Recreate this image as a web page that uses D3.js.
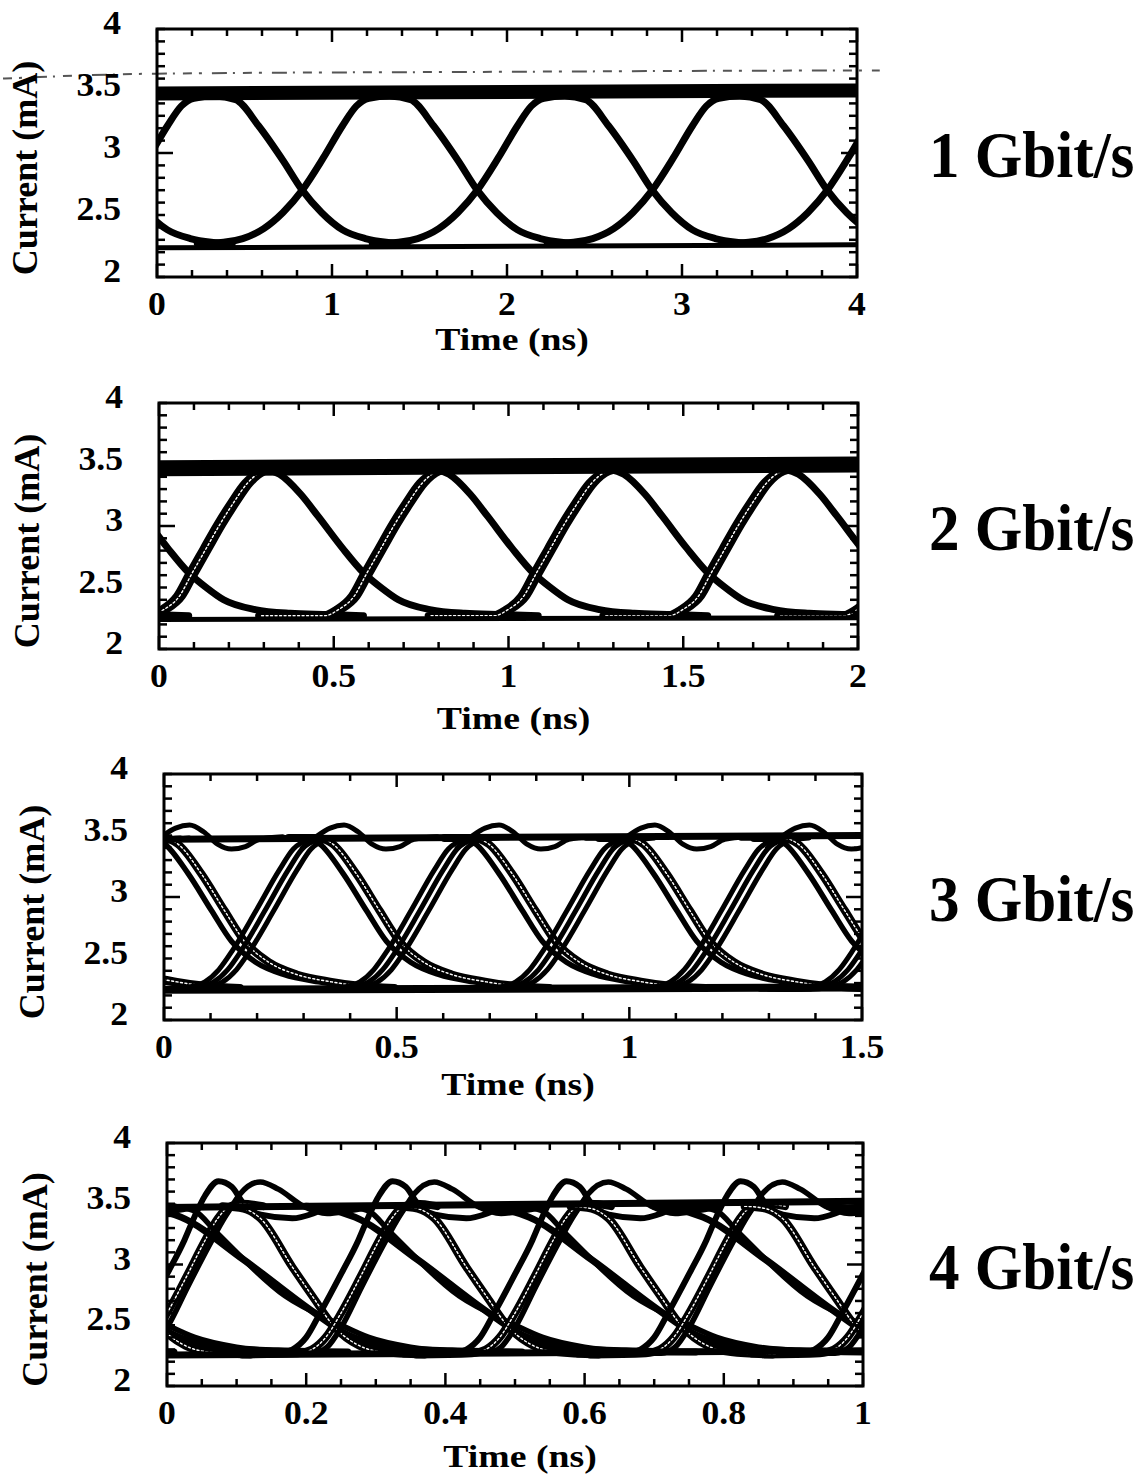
<!DOCTYPE html>
<html>
<head>
<meta charset="utf-8">
<script src="https://cdn.jsdelivr.net/npm/d3@7"></script>
<style>
  html, body { margin: 0; padding: 0; background: #fff; }
  text { font-family: "Liberation Serif", "Times New Roman", serif; font-weight: bold; fill: #000; }
</style>
</head>
<body>
<div id="chart"></div>
<script>
// ---- values ----
const rateLabels = ["1 Gbit/s", "2 Gbit/s", "3 Gbit/s", "4 Gbit/s"];
const xDomains = [[0, 4], [0, 2], [0, 1.5], [0, 1]];
const xTickValues = [[0, 1, 2, 3, 4], [0, 0.5, 1, 1.5, 2], [0, 0.5, 1, 1.5], [0, 0.2, 0.4, 0.6, 0.8, 1]];
const xMinorCounts = [20, 20, 15, 20];
const yDomain = [2, 4];
const yTickValues = [2, 2.5, 3, 3.5, 4];
const yMajorTicks = [3];
const xTitle = "Time (ns)";
const yTitle = "Current (mA)";

// eye crossing times (ns) for each bit rate
const crossings1 = [-0.17, 0.83, 1.83, 2.83, 3.83];
const crossings2 = [-0.415, 0.085, 0.585, 1.07, 1.57, 2.07];
const crossings3 = [-0.165, 0.167, 0.50, 0.835, 1.167, 1.50];
const crossings4 = [-0.29, -0.04, 0.21, 0.46, 0.71, 0.96, 1.21];

// "1" and "0" levels [t, mA]
const high1 = [[0, 3.48], [4, 3.505]];
const low1 = [[0, 2.235], [4, 2.26]];
const noise1 = [[-0.88, 3.60], [0, 3.64], [2, 3.655], [4, 3.665], [4.13, 3.665]];
const high2 = [[0, 3.47], [2, 3.50]];
const low2 = [[0, 2.24], [2, 2.255]];
const high3 = [[0, 3.47], [1.5, 3.50]];
const low3 = [[0, 2.245], [1.5, 2.265]];
const high4 = [[0, 3.47], [1, 3.52]];
const low4 = [[0, 2.255], [1, 2.29]];

// edge traces, [time from crossing (ns), mA]
const rise1 = [[-0.6, 2.27], [-0.45, 2.28], [-0.34, 2.31], [-0.22, 2.39], [-0.11, 2.52], [0, 2.70], [0.12, 2.96], [0.23, 3.22], [0.31, 3.38], [0.38, 3.44], [0.5, 3.46], [0.6, 3.46]];
const fall1 = [[-0.6, 3.46], [-0.5, 3.46], [-0.38, 3.43], [-0.25, 3.22], [-0.11, 2.94], [0, 2.70], [0.11, 2.52], [0.23, 2.38], [0.36, 2.31], [0.48, 2.28], [0.6, 2.27]];

const rise2 = [[-0.3, 2.27], [-0.12, 2.27], [-0.08, 2.32], [-0.035, 2.43], [0, 2.61], [0.04, 2.81], [0.08, 3.01], [0.12, 3.19], [0.16, 3.35], [0.2, 3.44], [0.25, 3.47], [0.32, 3.48]];
const fall2 = [[-0.35, 3.48], [-0.28, 3.46], [-0.24, 3.42], [-0.18, 3.26], [-0.13, 3.08], [-0.06, 2.82], [0, 2.62], [0.05, 2.50], [0.10, 2.40], [0.19, 2.32], [0.29, 2.29], [0.40, 2.28], [0.5, 2.27]];

const rise3 = [[-0.2, 2.25], [-0.13, 2.25], [-0.09, 2.27], [-0.06, 2.31], [-0.03, 2.41], [0, 2.57], [0.05, 2.89], [0.10, 3.22], [0.13, 3.39], [0.16, 3.46], [0.2, 3.48]];
const ring3 = [[0.13, 3.40], [0.16, 3.49], [0.19, 3.56], [0.22, 3.585], [0.25, 3.53], [0.28, 3.43], [0.31, 3.39], [0.34, 3.41], [0.37, 3.47], [0.42, 3.49]];
const fall3 = [[-0.26, 3.48], [-0.2, 3.48], [-0.165, 3.43], [-0.115, 3.19], [-0.065, 2.89], [-0.022, 2.64], [0.03, 2.47], [0.09, 2.37], [0.165, 2.31], [0.22, 2.28], [0.3, 2.26]];

const rise4a = [[-0.12, 2.26], [-0.05, 2.27], [-0.03, 2.30], [-0.01, 2.40], [0.01, 2.60], [0.04, 2.92], [0.065, 3.20], [0.08, 3.40], [0.095, 3.57], [0.114, 3.685], [0.133, 3.64], [0.15, 3.50], [0.175, 3.41], [0.22, 3.38], [0.25, 3.42], [0.27, 3.47], [0.3, 3.48]];
const rise4b = [[-0.12, 2.26], [-0.04, 2.27], [-0.02, 2.30], [0, 2.40], [0.02, 2.58], [0.05, 2.90], [0.075, 3.18], [0.095, 3.38], [0.11, 3.47], [0.13, 3.50], [0.16, 3.48]];
const rise4c = [[-0.08, 2.27], [0, 2.27], [0.02, 2.32], [0.04, 2.48], [0.07, 2.82], [0.10, 3.15], [0.12, 3.36], [0.13, 3.45], [0.145, 3.58], [0.174, 3.68], [0.2, 3.62], [0.236, 3.48], [0.27, 3.42], [0.3, 3.44], [0.33, 3.47]];
const fall4a = [[-0.26, 3.48], [-0.23, 3.46], [-0.19, 3.39], [-0.1, 3.04], [0, 2.61], [0.05, 2.42], [0.09, 2.34], [0.115, 2.31], [0.2, 2.29], [0.3, 2.28]];
const fall4b = [[-0.13, 3.48], [-0.1, 3.46], [-0.076, 3.38], [-0.03, 2.98], [0, 2.73], [0.03, 2.49], [0.067, 2.33], [0.1, 2.28], [0.16, 2.26]];
const fall4c = [[-0.2, 3.48], [-0.17, 3.44], [-0.14, 3.27], [-0.04, 2.74], [0.037, 2.51], [0.08, 2.40], [0.14, 2.32], [0.2, 2.29], [0.28, 2.28]];

// ---- layout ----
const W = 1145, H = 1477;
const panels = [
  { frame: { left: 157, right: 857, top: 29, bottom: 277 }, cross: crossings1,
    high: high1, low: low1, highW: 14, lowW: 5, xTitleY: 350, noise: noise1,
    traces: [{ pts: rise1, w: 7 }, { pts: fall1, w: 7 }] },
  { frame: { left: 159, right: 858, top: 403, bottom: 649 }, cross: crossings2,
    high: high2, low: low2, highW: 16, lowW: 5, xTitleY: 729,
    traces: [{ pts: fall2, w: 7 }, { pts: rise2, w: 7 }, { pts: rise2, w: 7, shift: 0.017 },
             { pts: rise2, w: 1.4, shift: 0.0085, white: true }] },
  { frame: { left: 164, right: 862, top: 774, bottom: 1020 }, cross: crossings3,
    high: high3, low: low3, highW: 7, lowW: 8, xTitleY: 1095,
    traces: [{ pts: fall3, w: 5.5 }, { pts: fall3, w: 8, shift: 0.028 }, { pts: fall3, w: 1.4, shift: 0.028, white: true },
             { pts: rise3, w: 5, shift: -0.019 }, { pts: rise3, w: 5 }, { pts: rise3, w: 5, shift: 0.019 },
             { pts: ring3, w: 5 }] },
  { frame: { left: 167, right: 863, top: 1143, bottom: 1386 }, cross: crossings4,
    high: high4, low: low4, highW: 7, lowW: 7, xTitleY: 1467,
    traces: [{ pts: fall4a, w: 7 }, { pts: fall4c, w: 5.5 }, { pts: fall4b, w: 8 }, { pts: fall4b, w: 1.4, white: true },
             { pts: rise4a, w: 6 }, { pts: rise4b, w: 8, shift: 0.018 }, { pts: rise4b, w: 1.4, shift: 0.018, white: true },
             { pts: rise4c, w: 5.5 }] },
];

const svg = d3.select('#chart').append('svg')
  .attr('width', W).attr('height', H)
  .style('background', '#fff');

function label(g, x, y, txt, size, sx, anchor) {
  g.append('text')
    .attr('transform', `translate(${x},${y}) scale(${sx},1)`)
    .attr('text-anchor', anchor)
    .style('font-size', size + 'px')
    .text(txt);
}

panels.forEach((p, i) => {
  const f = p.frame;
  const x = d3.scaleLinear().domain(xDomains[i]).range([f.left, f.right]);
  const y = d3.scaleLinear().domain(yDomain).range([f.bottom, f.top]);
  const g = svg.append('g');

  const clipId = 'clip' + i;
  svg.append('clipPath').attr('id', clipId)
    .append('rect').attr('x', f.left).attr('y', f.top)
    .attr('width', f.right - f.left).attr('height', f.bottom - f.top);

  const line = d3.line().x(d => x(d[0])).y(d => y(d[1])).curve(d3.curveMonotoneX);
  const plot = g.append('g').attr('clip-path', `url(#${clipId})`);

  // overlaid waveforms, one copy per crossing
  p.cross.forEach(tc => {
    p.traces.forEach(tr => {
      const pts = tr.pts.map(d => [d[0] + tc + (tr.shift || 0), d[1]]);
      plot.append('path')
        .attr('d', line(pts))
        .attr('fill', 'none')
        .attr('stroke', tr.white ? '#fff' : '#000')
        .attr('stroke-width', tr.w)
        .attr('stroke-dasharray', tr.white ? '2,2.5' : null)
        .attr('stroke-linecap', 'round')
        .attr('stroke-linejoin', 'round');
    });
  });

  // "1" and "0" rails
  plot.append('path').attr('d', line(p.high)).attr('fill', 'none')
    .attr('stroke', '#000').attr('stroke-width', p.highW);
  plot.append('path').attr('d', line(p.low)).attr('fill', 'none')
    .attr('stroke', '#000').attr('stroke-width', p.lowW);

  if (p.noise) {
    g.append('path').attr('d', line(p.noise)).attr('fill', 'none')
      .attr('stroke', '#555').attr('stroke-width', 2)
      .attr('stroke-dasharray', '9,7,3,10,15,6,2,8');
  }

  // frame
  g.append('rect')
    .attr('x', f.left).attr('y', f.top)
    .attr('width', f.right - f.left).attr('height', f.bottom - f.top)
    .attr('fill', 'none').attr('stroke', '#000').attr('stroke-width', 3);

  // inward ticks on all four sides
  const ticks = g.append('g').attr('stroke', '#000').attr('stroke-width', 2.5);
  const isMajorX = v => xTickValues[i].some(m => Math.abs(m - v) < 1e-9);
  x.ticks(xMinorCounts[i]).forEach(v => {
    const len = isMajorX(v) ? 13 : 7;
    ticks.append('line').attr('x1', x(v)).attr('x2', x(v)).attr('y1', f.bottom).attr('y2', f.bottom - len);
    ticks.append('line').attr('x1', x(v)).attr('x2', x(v)).attr('y1', f.top).attr('y2', f.top + len);
  });
  const isMajorY = v => yMajorTicks.some(m => Math.abs(m - v) < 1e-9);
  y.ticks(20).forEach(v => {
    const len = isMajorY(v) ? 16 : 8;
    ticks.append('line').attr('y1', y(v)).attr('y2', y(v)).attr('x1', f.left).attr('x2', f.left + len);
    ticks.append('line').attr('y1', y(v)).attr('y2', y(v)).attr('x1', f.right).attr('x2', f.right - len);
  });

  // tick labels
  xTickValues[i].forEach(v => label(g, x(v), f.bottom + 38, String(v), 33, 1.08, 'middle'));
  yTickValues.forEach(v => label(g, f.left - 36, y(v) + 5, String(v), 33, 1.08, 'end'));

  // axis titles
  label(g, (f.left + f.right) / 2 + 5, p.xTitleY, xTitle, 32, 1.18, 'middle');
  const cy = (f.top + f.bottom) / 2 + 15;
  g.append('text')
    .attr('transform', `translate(${f.left - 120},${cy}) rotate(-90)`)
    .attr('text-anchor', 'middle')
    .style('font-size', '36px')
    .text(yTitle);

  // bit-rate caption
  label(g, 929, (f.top + f.bottom) / 2 + 24, rateLabels[i], 65, 0.94, 'start');
});
</script>
</body>
</html>
